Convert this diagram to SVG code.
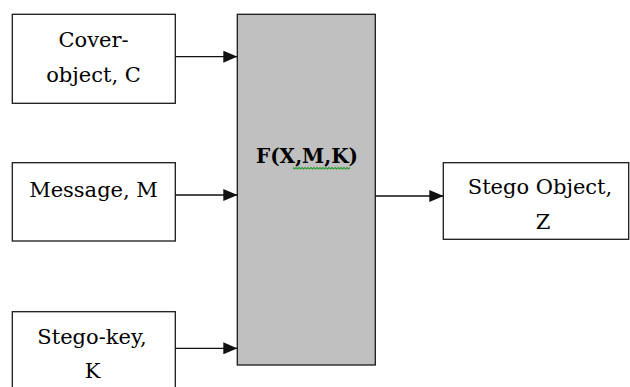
<svg xmlns="http://www.w3.org/2000/svg" width="630" height="387" viewBox="0 0 630 387">
  <style>
    .box { fill: #ffffff; stroke: #1a1a1a; stroke-width: 1.3; }
    .proc { fill: #c0c0c0; stroke: #1a1a1a; stroke-width: 1.3; }
    .lbl { font-family: "DejaVu Serif", "Liberation Serif", serif; font-size: 21px; fill: #000; text-anchor: middle; }
    .bold { font-weight: bold; font-size: 20px; }
    .conn { stroke: #111; stroke-width: 1.3; fill: none; marker-end: url(#arrow); }
  </style>
  <defs>
    <marker id="arrow" markerUnits="userSpaceOnUse" markerWidth="14" markerHeight="12" refX="14" refY="6" orient="auto">
      <path d="M0,0 L14,6 L0,12 Z" fill="#111"/>
    </marker>
  </defs>
  <rect width="630" height="387" fill="#ffffff"/>

  <g id="cover">
    <rect class="box" x="12.3" y="14.3" width="163" height="89"/>
    <text class="lbl" x="93.5" y="46.7">Cover-</text>
    <text class="lbl" x="93.5" y="81.7">object, C</text>
  </g>

  <g id="message">
    <rect class="box" x="12.3" y="162.7" width="163" height="78.3"/>
    <text class="lbl" x="93.5" y="196.7">Message, M</text>
  </g>

  <g id="stegokey">
    <rect class="box" x="12.3" y="311.7" width="163" height="90"/>
    <text class="lbl" x="92" y="344">Stego-key,</text>
    <text class="lbl" x="92.5" y="378.3">K</text>
  </g>

  <g id="function">
    <rect class="proc" x="237.3" y="14.3" width="138" height="350.7"/>
    <text class="lbl bold" x="307" y="163.3">F(X,M,K)</text>
    <path d="M293,167.5 l1.5,1.5 l1.5,-1.5 l1.5,1.5 l1.5,-1.5 l1.5,1.5 l1.5,-1.5 l1.5,1.5 l1.5,-1.5 l1.5,1.5 l1.5,-1.5 l1.5,1.5 l1.5,-1.5 l1.5,1.5 l1.5,-1.5 l1.5,1.5 l1.5,-1.5 l1.5,1.5 l1.5,-1.5 l1.5,1.5 l1.5,-1.5 l1.5,1.5 l1.5,-1.5 l1.5,1.5 l1.5,-1.5 l1.5,1.5 l1.5,-1.5 l1.5,1.5 l1.5,-1.5 l1.5,1.5 l1.5,-1.5 l1.5,1.5 l1.5,-1.5 l1.5,1.5 l1.5,-1.5 l1.5,1.5 l1.5,-1.5 l1.5,1.5 l1.5,-1.5" fill="none" stroke="#2f9a2f" stroke-width="1.1"/>
  </g>

  <g id="stegoobject">
    <rect class="box" x="443.3" y="162.7" width="185.4" height="76.6"/>
    <text class="lbl" x="540" y="194.3">Stego Object,</text>
    <text class="lbl" x="543" y="229.3">Z</text>
  </g>

  <g id="connectors">
    <line class="conn" x1="175.3" y1="56.7" x2="237.3" y2="56.7"/>
    <line class="conn" x1="175.3" y1="195" x2="237.3" y2="195"/>
    <line class="conn" x1="175.3" y1="348.3" x2="237.3" y2="348.3"/>
    <line class="conn" x1="375.3" y1="196" x2="443.3" y2="196"/>
  </g>
</svg>
